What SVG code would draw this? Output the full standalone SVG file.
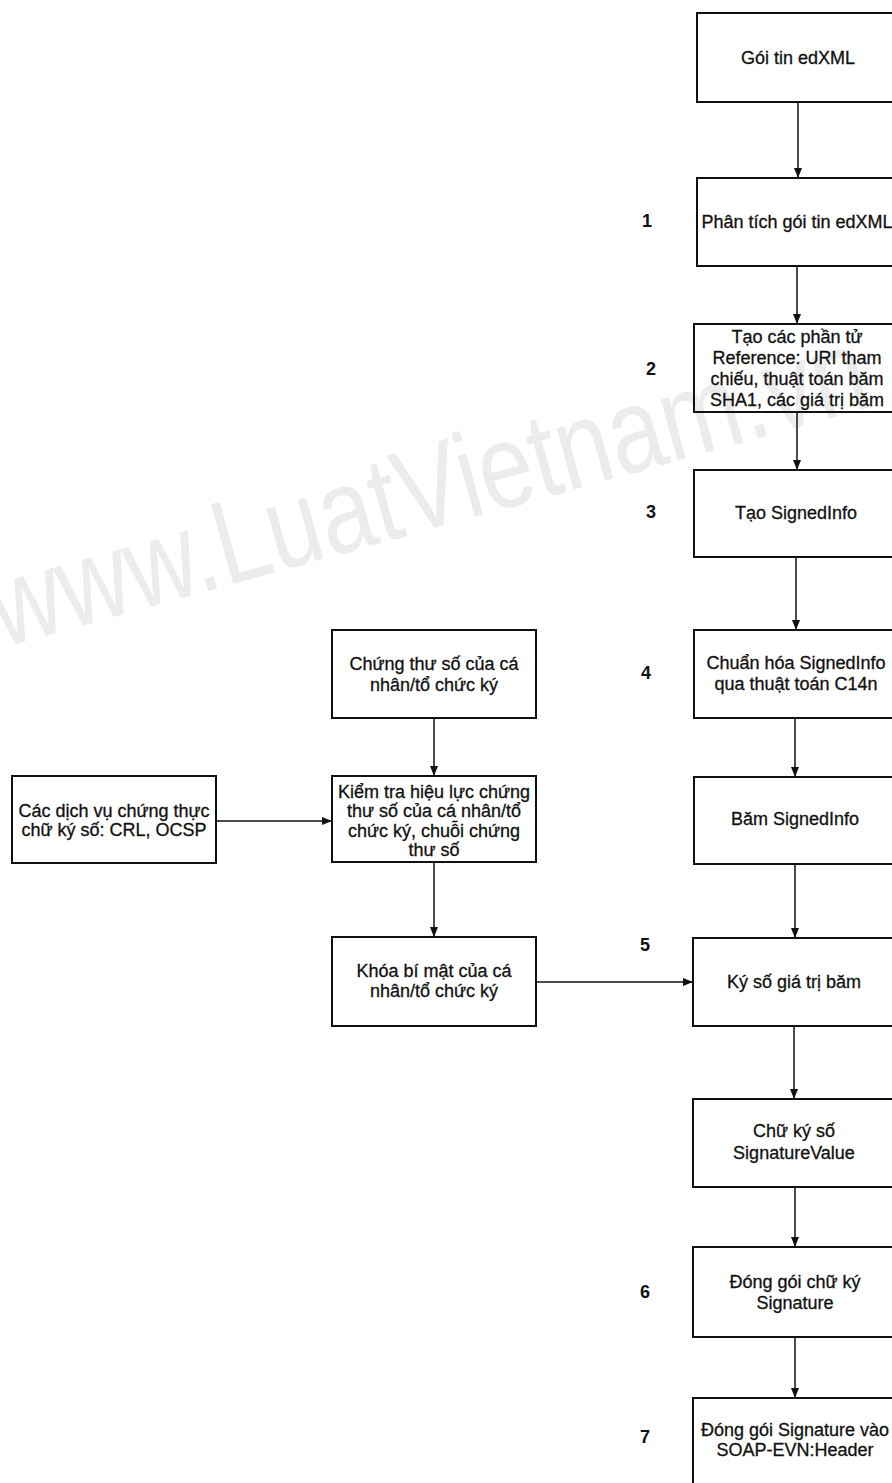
<svg xmlns="http://www.w3.org/2000/svg" width="892" height="1483" viewBox="0 0 892 1483">
<style>
.box{fill:none;stroke:#111;stroke-width:2}
.t{font-family:"Liberation Sans","DejaVu Sans",Arial,sans-serif;font-size:18px;fill:#111;stroke:#111;stroke-width:0.3;text-anchor:middle}
.n{font-family:"Liberation Sans","DejaVu Sans",Arial,sans-serif;font-size:18px;font-weight:bold;fill:#111;text-anchor:middle}
.c{fill:none;stroke:#111;stroke-width:1.5}
.wm{font-family:"Liberation Sans",Arial,sans-serif;font-size:96px;fill:#ececec}
</style>
<defs>
<marker id="ah" markerUnits="userSpaceOnUse" markerWidth="10" markerHeight="8" refX="10" refY="4" orient="auto">
<path d="M0,0 L10,4 L0,8 Z" fill="#111"/>
</marker>
</defs>
<rect width="892" height="1483" fill="#fff"/>
<g id="watermark" transform="translate(2 648) rotate(-15.5) scale(1 1.25)">
<text class="wm" x="0" y="0" textLength="905" lengthAdjust="spacingAndGlyphs">www.LuatVietnam.vn</text>
</g>

<g id="connectors">
<line class="c" x1="798" y1="102" x2="798" y2="178" marker-end="url(#ah)"/>
<line class="c" x1="797" y1="266" x2="797" y2="324" marker-end="url(#ah)"/>
<line class="c" x1="797" y1="412" x2="797" y2="470" marker-end="url(#ah)"/>
<line class="c" x1="796" y1="557" x2="796" y2="630" marker-end="url(#ah)"/>
<line class="c" x1="795" y1="718" x2="795" y2="777" marker-end="url(#ah)"/>
<line class="c" x1="795" y1="864" x2="795" y2="938" marker-end="url(#ah)"/>
<line class="c" x1="794" y1="1026" x2="794" y2="1099" marker-end="url(#ah)"/>
<line class="c" x1="795" y1="1187" x2="795" y2="1247" marker-end="url(#ah)"/>
<line class="c" x1="795" y1="1337" x2="795" y2="1398" marker-end="url(#ah)"/>
<line class="c" x1="434" y1="718" x2="434" y2="776" marker-end="url(#ah)"/>
<line class="c" x1="434" y1="862" x2="434" y2="937" marker-end="url(#ah)"/>
<line class="c" x1="216" y1="821" x2="332" y2="821" marker-end="url(#ah)"/>
<line class="c" x1="536" y1="982" x2="693" y2="982" marker-end="url(#ah)"/>
</g>

<g id="n-goitin"><rect class="box" x="697" y="13" width="206" height="89"/><text class="t" x="798" y="64">Gói tin edXML</text></g>
<g id="n-phantich"><rect class="box" x="697" y="178" width="206" height="88"/><text class="t" x="797" y="228">Phân tích gói tin edXML</text></g>
<g id="n-reference"><rect class="box" x="694" y="324" width="206" height="88"/>
<text class="t" x="797" y="343">Tạo các phần tử</text>
<text class="t" x="797" y="364">Reference: URI tham</text>
<text class="t" x="797" y="385">chiếu, thuật toán băm</text>
<text class="t" x="797" y="406">SHA1, các giá trị băm</text></g>
<g id="n-signedinfo"><rect class="box" x="694" y="470" width="206" height="87"/><text class="t" x="796" y="519">Tạo SignedInfo</text></g>
<g id="n-chuanhoa"><rect class="box" x="694" y="630" width="206" height="88"/>
<text class="t" x="796" y="669">Chuẩn hóa SignedInfo</text>
<text class="t" x="796" y="690">qua thuật toán C14n</text></g>
<g id="n-bam"><rect class="box" x="694" y="777" width="206" height="87"/><text class="t" x="795" y="825">Băm SignedInfo</text></g>
<g id="n-kyso"><rect class="box" x="693" y="938" width="206" height="88"/><text class="t" x="794" y="988">Ký số giá trị băm</text></g>
<g id="n-chukyso"><rect class="box" x="693" y="1099" width="206" height="88"/>
<text class="t" x="794" y="1137">Chữ ký số</text>
<text class="t" x="794" y="1159">SignatureValue</text></g>
<g id="n-donggoi"><rect class="box" x="693" y="1247" width="206" height="90"/>
<text class="t" x="795" y="1288">Đóng gói chữ ký</text>
<text class="t" x="795" y="1309">Signature</text></g>
<g id="n-soap"><rect class="box" x="693" y="1398" width="206" height="110"/>
<text class="t" x="795" y="1436">Đóng gói Signature vào</text>
<text class="t" x="795" y="1456">SOAP-EVN:Header</text></g>

<g id="n-chungthu"><rect class="box" x="332" y="630" width="204" height="88"/>
<text class="t" x="434" y="670">Chứng thư số của cá</text>
<text class="t" x="434" y="691">nhân/tổ chức ký</text></g>
<g id="n-kiemtra"><rect class="box" x="332" y="776" width="204" height="86"/>
<text class="t" x="434" y="798">Kiểm tra hiệu lực chứng</text>
<text class="t" x="434" y="817">thư số của cá nhân/tổ</text>
<text class="t" x="434" y="837">chức ký, chuỗi chứng</text>
<text class="t" x="434" y="856">thư số</text></g>
<g id="n-dichvu"><rect class="box" x="12" y="776" width="204" height="87"/>
<text class="t" x="114" y="817">Các dịch vụ chứng thực</text>
<text class="t" x="114" y="836">chữ ký số: CRL, OCSP</text></g>
<g id="n-khoa"><rect class="box" x="332" y="937" width="204" height="89"/>
<text class="t" x="434" y="977">Khóa bí mật của cá</text>
<text class="t" x="434" y="997">nhân/tổ chức ký</text></g>

<g id="step-labels">
<text class="n" x="647" y="227">1</text>
<text class="n" x="651" y="375">2</text>
<text class="n" x="651" y="518">3</text>
<text class="n" x="646" y="679">4</text>
<text class="n" x="645" y="951">5</text>
<text class="n" x="645" y="1298">6</text>
<text class="n" x="645" y="1443">7</text>
</g>
</svg>
